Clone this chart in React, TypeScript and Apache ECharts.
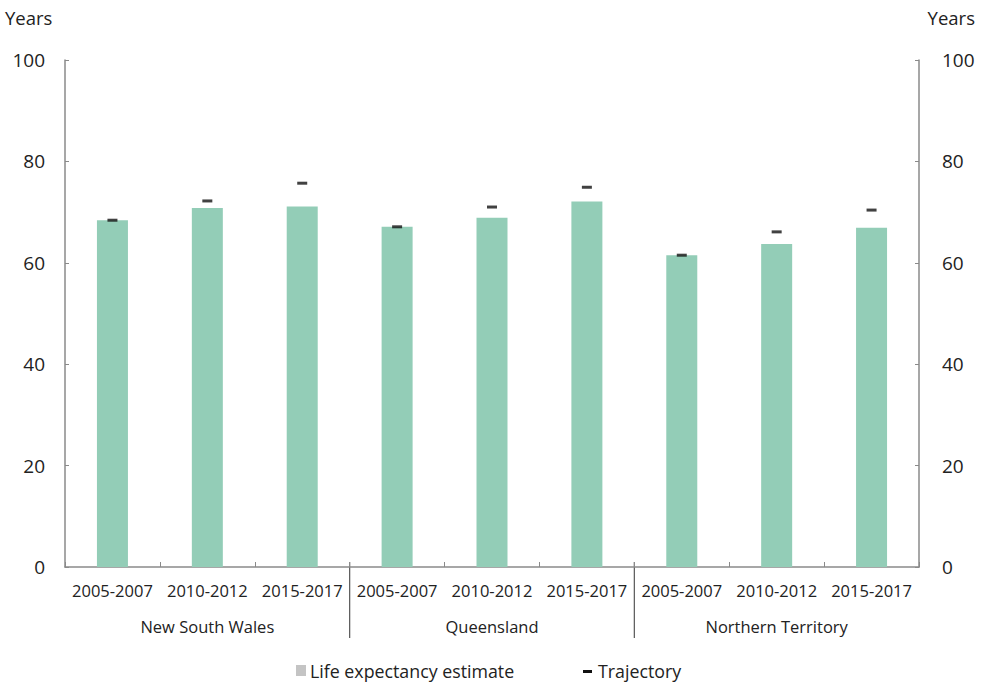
import React, { useEffect, useRef } from "react";
import * as echarts from "echarts";

const periods = ["2005-2007", "2010-2012", "2015-2017", "2005-2007", "2010-2012", "2015-2017", "2005-2007", "2010-2012", "2015-2017"];
const groups = ["New South Wales", "Queensland", "Northern Territory"];
const lifeExpectancy = [68.4, 70.8, 71.1, 67.1, 68.9, 72.1, 61.5, 63.7, 66.9];
const trajectory = [68.4, 72.2, 75.7, 67.1, 71.0, 74.9, 61.5, 66.1, 70.4];
const yTicks = { min: 0, max: 100, interval: 20 };
const legendNames = ["Life expectancy estimate", "Trajectory"];

const FONT = "'Open Sans', 'Noto Sans', sans-serif";

export default function App() {
  const ref = useRef<HTMLDivElement>(null);
  useEffect(() => {
    if (!ref.current) return;
    const chart = echarts.init(ref.current, null, { renderer: "svg" });
    const yAxisCommon = {
      type: "value",
      min: yTicks.min,
      max: yTicks.max,
      interval: yTicks.interval,
      axisLine: { show: true, lineStyle: { color: "#8a8a8a", width: 1.5 } },
      axisTick: { show: true, inside: true, length: 4, lineStyle: { color: "#8a8a8a" } },
      splitLine: { show: false },
      axisLabel: { color: "#222", fontSize: 19, fontFamily: FONT },
    };
    chart.setOption({
      animation: false,
      backgroundColor: "#fff",
      grid: { left: 65, right: 64, top: 60, bottom: 117, containLabel: false },
      xAxis: [
        {
          type: "category",
          data: periods,
          position: "bottom",
          axisLine: { show: true, lineStyle: { color: "#8a8a8a", width: 1.5 } },
          axisTick: { show: true, inside: true, length: 5, lineStyle: { color: "#8a8a8a" } },
          axisLabel: { color: "#222", fontSize: 16.5, fontFamily: FONT, margin: 15, interval: 0 },
        },
        {
          type: "category",
          data: groups,
          position: "bottom",
          axisLine: { show: false },
          axisTick: { show: false },
          axisLabel: { color: "#222", fontSize: 16.5, fontFamily: FONT, margin: 51, interval: 0 },
        },
      ],
      yAxis: [
        { ...yAxisCommon, position: "left", axisLabel: { ...yAxisCommon.axisLabel, margin: 20 } },
        { ...yAxisCommon, position: "right", axisLabel: { ...yAxisCommon.axisLabel, margin: 23 } },
      ],
      series: [
        {
          name: legendNames[0],
          type: "bar",
          xAxisIndex: 0,
          yAxisIndex: 0,
          data: lifeExpectancy,
          barWidth: 31,
          itemStyle: { color: "#93cdb7" },
        },
        {
          name: legendNames[1],
          type: "scatter",
          xAxisIndex: 0,
          yAxisIndex: 0,
          data: trajectory,
          symbol: "rect",
          symbolSize: [10, 3],
          itemStyle: { color: "#111" },
          z: 5,
        },
      ],
    });

    const sepX = (i: number) => {
      const a = chart.convertToPixel({ xAxisIndex: 0 }, i) as number;
      const b = chart.convertToPixel({ xAxisIndex: 0 }, i + 1) as number;
      return (a + b) / 2;
    };
    const y0 = chart.convertToPixel({ yAxisIndex: 0 }, 0) as number;
    const lineStyle = { stroke: "#555", lineWidth: 1.2 };
    chart.setOption({
      graphic: [
        { type: "line", shape: { x1: sepX(2), y1: y0 - 5, x2: sepX(2), y2: y0 + 71 }, style: lineStyle },
        { type: "line", shape: { x1: sepX(5), y1: y0 - 5, x2: sepX(5), y2: y0 + 71 }, style: lineStyle },
        { type: "text", left: 5, top: 8, style: { text: "Years", fontSize: 18.5, fontFamily: FONT, fill: "#222" } },
        { type: "text", right: 8, top: 8, style: { text: "Years", fontSize: 18.5, fontFamily: FONT, fill: "#222" } },
        { type: "rect", shape: { x: 296, y: 665, width: 10, height: 11 }, style: { fill: "#c4c4c4" } },
        { type: "text", x: 310, y: 671, style: { text: legendNames[0], fontSize: 17.8, fontFamily: FONT, fill: "#222", verticalAlign: "middle" } },
        { type: "rect", shape: { x: 583, y: 670, width: 9, height: 3 }, style: { fill: "#111" } },
        { type: "text", x: 598, y: 671, style: { text: legendNames[1], fontSize: 17.8, fontFamily: FONT, fill: "#222", verticalAlign: "middle" } },
      ],
    });
    return () => chart.dispose();
  }, []);
  return <div ref={ref} style={{ width: 983, height: 684, position: "absolute", left: 0, top: 0 }} />;
}
